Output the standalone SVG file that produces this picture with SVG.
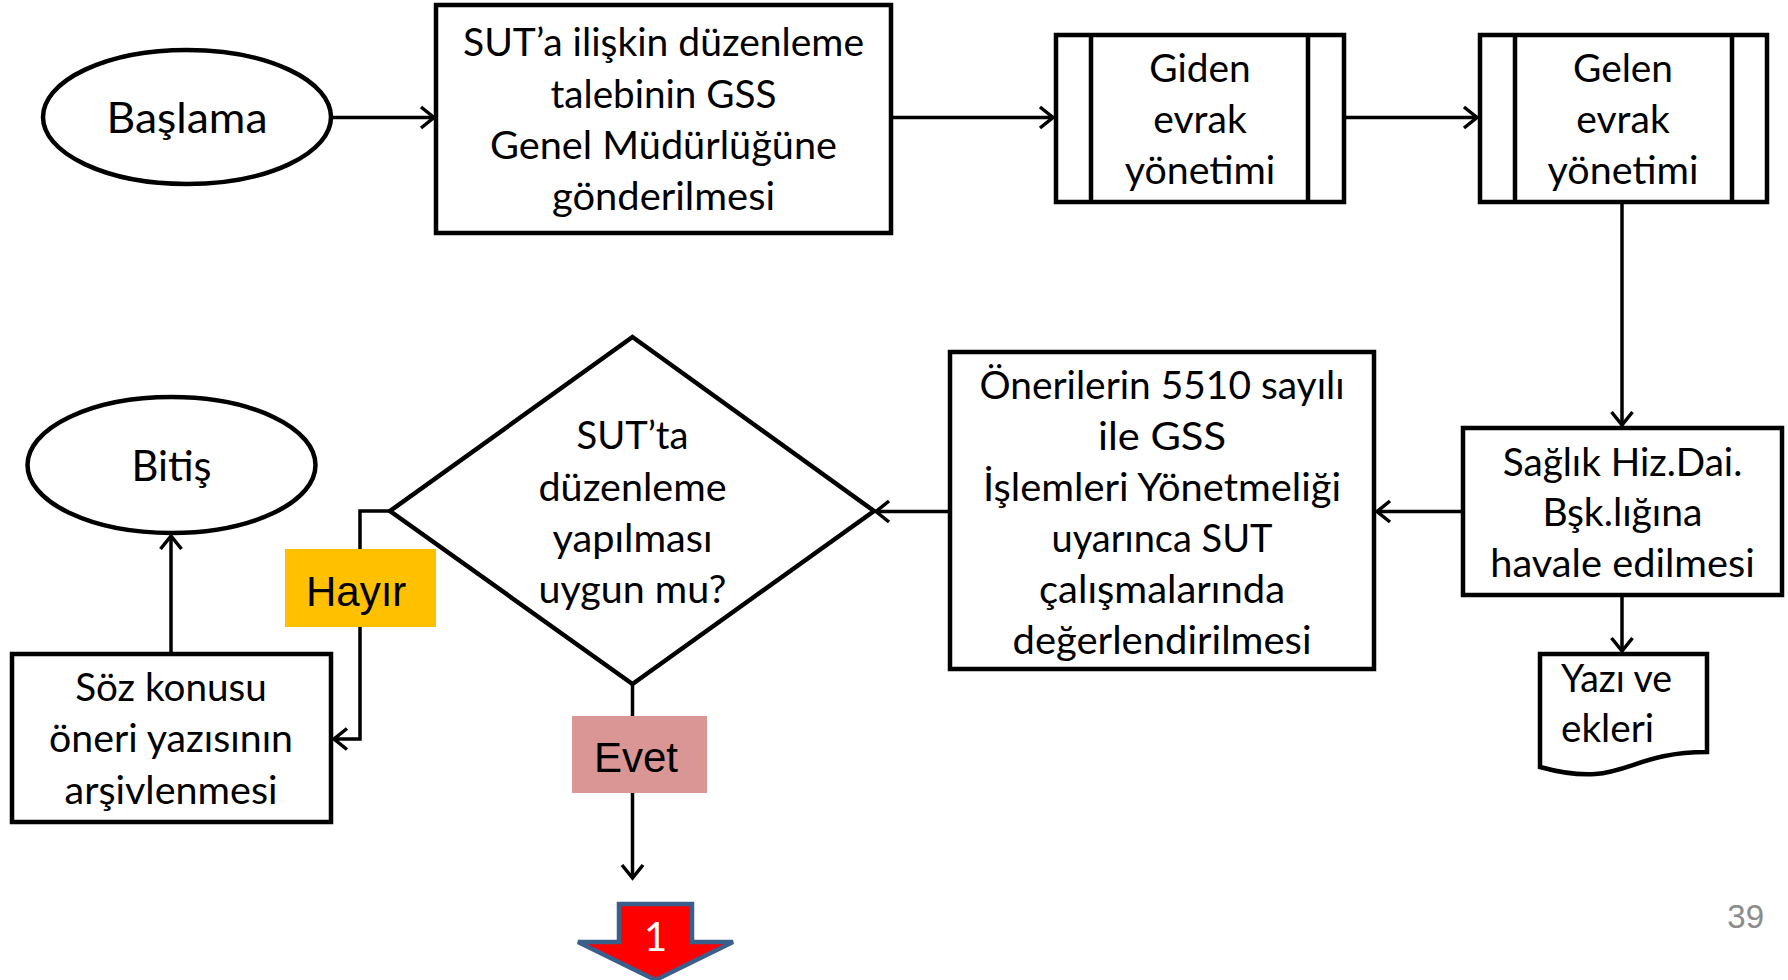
<svg xmlns="http://www.w3.org/2000/svg" width="1788" height="980" viewBox="0 0 1788 980">
  <style>
    .shape { fill: #fff; stroke: #000; stroke-width: 4.5; }
    .inner { fill: none; stroke: #000; stroke-width: 4.5; }
    .conn { fill: none; stroke: #000; stroke-width: 3.5; }
    .t { font-family: Lato, "Open Sans", "Liberation Sans", sans-serif; font-size: 39px; fill: #000; text-anchor: middle; }
    .big { font-size: 43px; }
    .tl { text-anchor: start; }
    .lbl { font-family: "Liberation Sans", Arial, sans-serif; font-size: 42px; fill: #000; }
  </style>
  <defs>
    <marker id="arr" viewBox="-16 -14 20 28" markerWidth="20" markerHeight="28" refX="0" refY="0" orient="auto" markerUnits="userSpaceOnUse">
      <path d="M-13,-10.5 L0,0 L-13,10.5" fill="none" stroke="#000" stroke-width="3.5" stroke-linejoin="miter"/>
    </marker>
  </defs>

  <rect width="1788" height="980" fill="#fff"/>

  <!-- connectors -->
  <g id="connectors">
    <line class="conn" x1="332" y1="117.5" x2="434" y2="117.5" marker-end="url(#arr)"/>
    <line class="conn" x1="891" y1="117.5" x2="1053" y2="117.5" marker-end="url(#arr)"/>
    <line class="conn" x1="1344" y1="117.5" x2="1477" y2="117.5" marker-end="url(#arr)"/>
    <line class="conn" x1="1622" y1="203" x2="1622" y2="425" marker-end="url(#arr)"/>
    <line class="conn" x1="1622" y1="596" x2="1622" y2="651" marker-end="url(#arr)"/>
    <line class="conn" x1="1463" y1="511.5" x2="1377" y2="511.5" marker-end="url(#arr)"/>
    <line class="conn" x1="950" y1="511.5" x2="876" y2="511.5" marker-end="url(#arr)"/>
    <polyline class="conn" points="390,511 360,511 360,739 334,739" marker-end="url(#arr)"/>
    <line class="conn" x1="171" y1="653" x2="171" y2="536" marker-end="url(#arr)"/>
    <line class="conn" x1="632.5" y1="684" x2="632.5" y2="878" marker-end="url(#arr)"/>
  </g>

  <!-- start -->
  <g id="start">
    <ellipse class="shape" cx="187" cy="117" rx="144" ry="67"/>
    <text class="t big" x="187" y="132.5" textLength="161" lengthAdjust="spacingAndGlyphs">Başlama</text>
  </g>

  <!-- request sent to GSS directorate -->
  <g id="send-request">
    <rect class="shape" x="436" y="5" width="455" height="228"/>
    <text class="t" x="663.5" y="56" textLength="401" lengthAdjust="spacingAndGlyphs">SUT’a ilişkin düzenleme</text>
    <text class="t" x="663.5" y="107.5" textLength="226" lengthAdjust="spacingAndGlyphs">talebinin GSS</text>
    <text class="t" x="663.5" y="159" textLength="347" lengthAdjust="spacingAndGlyphs">Genel Müdürlüğüne</text>
    <text class="t" x="663.5" y="210" textLength="223" lengthAdjust="spacingAndGlyphs">gönderilmesi</text>
  </g>

  <!-- outgoing documents (predefined process) -->
  <g id="outgoing">
    <rect class="shape" x="1056" y="35" width="288" height="167"/>
    <line class="inner" x1="1091" y1="35" x2="1091" y2="202"/>
    <line class="inner" x1="1308" y1="35" x2="1308" y2="202"/>
    <text class="t" x="1200" y="82" textLength="101.5" lengthAdjust="spacingAndGlyphs">Giden</text>
    <text class="t" x="1200" y="133" textLength="93.5" lengthAdjust="spacingAndGlyphs">evrak</text>
    <text class="t" x="1200" y="184" textLength="150.5" lengthAdjust="spacingAndGlyphs">yönetimi</text>
  </g>

  <!-- incoming documents (predefined process) -->
  <g id="incoming">
    <rect class="shape" x="1480" y="35" width="287" height="167"/>
    <line class="inner" x1="1515" y1="35" x2="1515" y2="202"/>
    <line class="inner" x1="1732" y1="35" x2="1732" y2="202"/>
    <text class="t" x="1623" y="82" textLength="100" lengthAdjust="spacingAndGlyphs">Gelen</text>
    <text class="t" x="1623" y="133" textLength="93.5" lengthAdjust="spacingAndGlyphs">evrak</text>
    <text class="t" x="1623" y="184" textLength="151" lengthAdjust="spacingAndGlyphs">yönetimi</text>
  </g>

  <!-- forwarded to health services department -->
  <g id="forward">
    <rect class="shape" x="1463" y="428" width="319" height="167"/>
    <text class="t" x="1622.5" y="476" textLength="239.5" lengthAdjust="spacingAndGlyphs">Sağlık Hiz.Dai.</text>
    <text class="t" x="1622.5" y="526" textLength="160" lengthAdjust="spacingAndGlyphs">Bşk.lığına</text>
    <text class="t" x="1622.5" y="577" textLength="264.5" lengthAdjust="spacingAndGlyphs">havale edilmesi</text>
  </g>

  <!-- document: letter and attachments -->
  <g id="document">
    <path class="shape" d="M1540,654 L1707,654 L1707,752 C1623.5,752 1623.5,790 1540,767 Z"/>
    <text class="t tl" x="1561" y="692" textLength="111" lengthAdjust="spacingAndGlyphs">Yazı ve</text>
    <text class="t tl" x="1561" y="742" textLength="93" lengthAdjust="spacingAndGlyphs">ekleri</text>
  </g>

  <!-- evaluation -->
  <g id="evaluate">
    <rect class="shape" x="950" y="352" width="424" height="317"/>
    <text class="t" x="1162" y="399" textLength="365" lengthAdjust="spacingAndGlyphs">Önerilerin 5510 sayılı</text>
    <text class="t" x="1162" y="450" textLength="128" lengthAdjust="spacingAndGlyphs">ile GSS</text>
    <text class="t" x="1162" y="501" textLength="358" lengthAdjust="spacingAndGlyphs">İşlemleri Yönetmeliği</text>
    <text class="t" x="1162" y="552" textLength="221" lengthAdjust="spacingAndGlyphs">uyarınca SUT</text>
    <text class="t" x="1162" y="603" textLength="246" lengthAdjust="spacingAndGlyphs">çalışmalarında</text>
    <text class="t" x="1162" y="654" textLength="299" lengthAdjust="spacingAndGlyphs">değerlendirilmesi</text>
  </g>

  <!-- decision -->
  <g id="decision">
    <polygon class="shape" points="632.5,337 874,511 632.5,684 390,511"/>
    <text class="t" x="632.5" y="449" textLength="112" lengthAdjust="spacingAndGlyphs">SUT’ta</text>
    <text class="t" x="632.5" y="501" textLength="188" lengthAdjust="spacingAndGlyphs">düzenleme</text>
    <text class="t" x="632.5" y="552" textLength="160" lengthAdjust="spacingAndGlyphs">yapılması</text>
    <text class="t" x="632.5" y="603" textLength="188" lengthAdjust="spacingAndGlyphs">uygun mu?</text>
  </g>

  <!-- branch labels -->
  <g id="label-no">
    <rect x="285" y="549" width="151" height="78" fill="#FFC000"/>
    <text class="lbl" x="306" y="606">Hayır</text>
  </g>
  <g id="label-yes">
    <rect x="572" y="716" width="135" height="77" fill="#D99694"/>
    <text class="lbl" x="594" y="772">Evet</text>
  </g>

  <!-- archive -->
  <g id="archive">
    <rect class="shape" x="12" y="654" width="319" height="168"/>
    <text class="t" x="171" y="701" textLength="191.5" lengthAdjust="spacingAndGlyphs">Söz konusu</text>
    <text class="t" x="171" y="752" textLength="244" lengthAdjust="spacingAndGlyphs">öneri yazısının</text>
    <text class="t" x="171" y="804" textLength="213" lengthAdjust="spacingAndGlyphs">arşivlenmesi</text>
  </g>

  <!-- end -->
  <g id="end">
    <ellipse class="shape" cx="171.5" cy="465" rx="144" ry="68"/>
    <text class="t big" x="171.5" y="481" textLength="80" lengthAdjust="spacingAndGlyphs">Bitiş</text>
  </g>

  <!-- continuation marker -->
  <g id="continue">
    <polygon points="619,904 692,904 692,942 733,942 655.5,980 578,942 619,942" fill="#FF0000" stroke="#3A5F8B" stroke-width="4.5" stroke-linejoin="miter"/>
    <text x="655.5" y="951" font-family="Lato, 'Liberation Sans', sans-serif" font-size="40" fill="#fff" text-anchor="middle">1</text>
  </g>

  <!-- page number -->
  <text x="1764" y="928" font-family="'Liberation Sans', Arial, sans-serif" font-size="33" fill="#8C8C8C" text-anchor="end">39</text>
</svg>
